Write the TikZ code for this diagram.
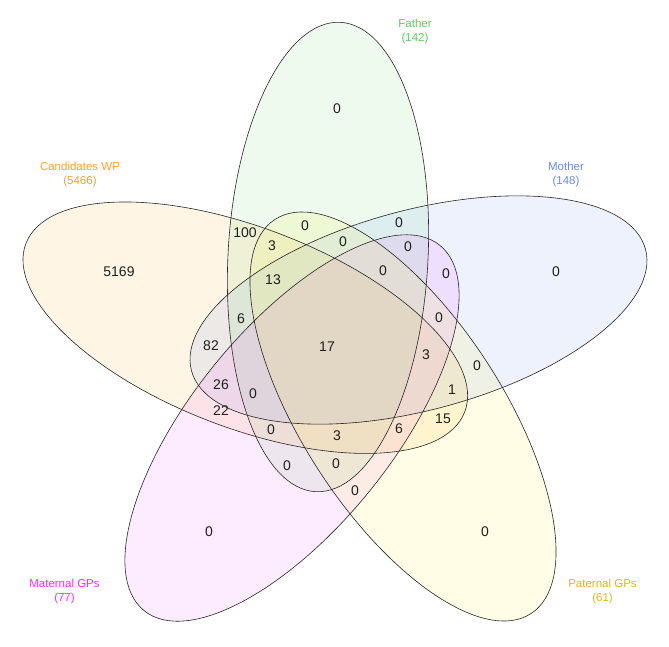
\documentclass[tikz,border=0pt]{standalone}
\usepackage{fontspec}
\setmainfont{Liberation Sans}
\definecolor{candfill}{RGB}{255,165,0}
\definecolor{candtext}{RGB}{255,160,40}
\definecolor{fatherfill}{RGB}{90,210,90}
\definecolor{fathertext}{RGB}{85,210,85}
\definecolor{motherfill}{RGB}{85,135,240}
\definecolor{mothertext}{RGB}{105,140,240}
\definecolor{matfill}{RGB}{240,60,255}
\definecolor{mattext}{RGB}{255,40,255}
\definecolor{patfill}{RGB}{255,240,0}
\definecolor{pattext}{RGB}{230,180,20}
\begin{document}
\begin{tikzpicture}[x=1pt,y=-1pt,
  vfill/.style={fill opacity=0.1},
  vline/.style={draw=black!85,line width=0.6pt},
  num/.style={font=\fontsize{14}{15}\selectfont,text=black!88,inner sep=0pt},
  cat/.style={font=\fontsize{11.5}{13.4}\selectfont,align=center,inner sep=0pt}]
\useasboundingbox (0,0) rectangle (669,646);
\fill[white] (0,0) rectangle (669,646);
% fills
\path[vfill,fill=candfill,shift={(245.3,327.7)},rotate=159] (0,0) ellipse [x radius=235,y radius=100];
\path[vfill,fill=fatherfill,shift={(328,257)},rotate=87] (0,0) ellipse [x radius=235,y radius=100];
\path[vfill,fill=motherfill,shift={(418.5,310)},rotate=15] (0,0) ellipse [x radius=235,y radius=100];
\path[vfill,fill=matfill,shift={(292,428)},rotate=231] (0,0) ellipse [x radius=235,y radius=100];
\path[vfill,fill=patfill,shift={(403,416.5)},rotate=303] (0,0) ellipse [x radius=235,y radius=100];
% outlines
\path[vline,shift={(245.3,327.7)},rotate=159] (0,0) ellipse [x radius=235,y radius=100];
\path[vline,shift={(328,257)},rotate=87] (0,0) ellipse [x radius=235,y radius=100];
\path[vline,shift={(418.5,310)},rotate=15] (0,0) ellipse [x radius=235,y radius=100];
\path[vline,shift={(292,428)},rotate=231] (0,0) ellipse [x radius=235,y radius=100];
\path[vline,shift={(403,416.5)},rotate=303] (0,0) ellipse [x radius=235,y radius=100];
% category labels
\node[cat,text=fathertext] (lfather) at (415,31.5) {Father\\(142)};
\node[cat,text=candtext] (lcand) at (80,174.5) {Candidates WP\\(5466)};
\node[cat,text=mothertext] (lmother) at (566,174.5) {Mother\\(148)};
\node[cat,text=mattext] (lmat) at (64.5,591.5) {Maternal GPs\\(77)};
\node[cat,text=pattext] (lpat) at (602.5,591.5) {Paternal GPs\\(61)};
% counts
\node[num] (n1) at (119,272) {5169};
\node[num] (n2) at (337,109) {0};
\node[num] (n3) at (556,272) {0};
\node[num] (n4) at (209,532) {0};
\node[num] (n5) at (485,532) {0};
\node[num] (n6) at (245,233) {100};
\node[num] (n7) at (272,246) {3};
\node[num] (n8) at (305,226) {0};
\node[num] (n9) at (399,223) {0};
\node[num] (n10) at (343,242) {0};
\node[num] (n11) at (408,247) {0};
\node[num] (n12) at (446,274) {0};
\node[num] (n13) at (273,280) {13};
\node[num] (n14) at (383,271) {0};
\node[num] (n15) at (241,319) {6};
\node[num] (n16) at (439,318) {0};
\node[num] (n17) at (211,346) {82};
\node[num] (n18) at (327,347) {17};
\node[num] (n19) at (426,355) {3};
\node[num] (n20) at (477,366) {0};
\node[num] (n21) at (221,385) {26};
\node[num] (n22) at (253,394) {0};
\node[num] (n23) at (452,390) {1};
\node[num] (n24) at (221,411) {22};
\node[num] (n25) at (443,419) {15};
\node[num] (n26) at (271,430) {0};
\node[num] (n27) at (337,436) {3};
\node[num] (n28) at (399,429) {6};
\node[num] (n29) at (287,466) {0};
\node[num] (n30) at (336,464) {0};
\node[num] (n31) at (355,491) {0};
\end{tikzpicture}
\end{document}
